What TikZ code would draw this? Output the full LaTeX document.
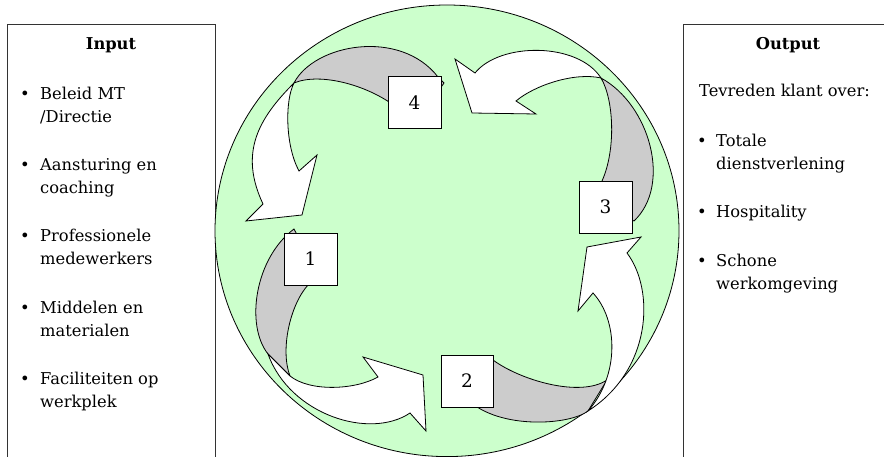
\documentclass[tikz,border=0pt]{standalone}
\usepackage{fontspec}
\setmainfont{DejaVu Serif}
\definecolor{circgreen}{HTML}{CCFFCC}
\definecolor{bandgray}{HTML}{CCCCCC}
\begin{document}
\begin{tikzpicture}[x=1pt,y=-1pt,
  edge/.style={draw=black, line width=0.8pt, line join=miter},
  grayband/.style={edge, fill=bandgray},
  whitearrow/.style={edge, fill=white},
  numbox/.style={draw=black, fill=white, line width=0.8pt, minimum width=52pt, minimum height=52pt, inner sep=0pt, font=\fontsize{18.5}{18.5}\selectfont},
  txt/.style={anchor=base west, inner sep=0pt, font=\fontsize{16.3}{20}\selectfont},
  bul/.style={anchor=base, inner sep=0pt, font=\fontsize{16.3}{20}\selectfont},
  head/.style={anchor=base, inner sep=0pt, font=\fontsize{16.3}{20}\selectfont\bfseries},
  panel/.style={draw=black!80, line width=0.9pt, fill=white}]
\useasboundingbox (0,0) rectangle (884,457);
\clip (0,0) rectangle (884,457);
\fill[white] (0,0) rectangle (884,457);

% side panels
\draw[panel] (7,24) rectangle (215,480);
\draw[panel] (683,24) rectangle (900,480);

% circle
\draw[edge, fill=circgreen] (447,230.8) ellipse [x radius=232, y radius=225.8];

% ---- arrow 4 (top left) ----
\filldraw[grayband] (294,83) .. controls (314,44) and (400,28) .. (438,77) -- (444,83) -- (425,110) -- (400,110)
  .. controls (370,85) and (320,72) .. (294,83) -- cycle;
\filldraw[whitearrow] (263,204) -- (246,221) -- (302,215) -- (317,155) -- (299,171)
  .. controls (285,145) and (285,100) .. (294,83)
  .. controls (258,119) and (239,153) .. (263,204) -- cycle;

% ---- arrow 3 (top right) ----
\filldraw[grayband] (601,78) .. controls (650,105) and (672,185) .. (634,221) -- (620,215) -- (600,192) -- (602,181)
  .. controls (616,150) and (614,100) .. (601,78) -- cycle;
\filldraw[whitearrow] (475,73) -- (455,59) -- (472,113) -- (536,114) -- (516,101)
  .. controls (535,85) and (575,72) .. (601,78)
  .. controls (578,42) and (500,42) .. (475,73) -- cycle;

% ---- arrow 2 (bottom right) ----
\filldraw[grayband] (607,380) -- (588,411) .. controls (570,425) and (500,430) .. (468,400) -- (486,360) -- (493,360)
  .. controls (520,380) and (580,398) .. (607,380) -- cycle;
\filldraw[whitearrow] (627,253) -- (641,237) -- (587,247) -- (578,311) -- (593,293)
  .. controls (618,320) and (620,375) .. (588,411)
  .. controls (652,370) and (655,290) .. (627,253) -- cycle;

% ---- arrow 1 (bottom left) ----
\filldraw[grayband] (290,376) -- (268,354) .. controls (245,325) and (255,258) .. (294,229) -- (305,250) -- (313,278) -- (308,285)
  .. controls (290,305) and (280,350) .. (290,376) -- cycle;
\filldraw[whitearrow] (410,413) -- (426,431) -- (423,375) -- (363,357) -- (378,377)
  .. controls (355,390) and (310,392) .. (290,376) -- (268,354)
  .. controls (290,415) and (370,440) .. (410,413) -- cycle;

% number boxes
\node[numbox, minimum width=53pt] (n1) at (310.5,259) {1};
\node[numbox] (n2) at (467,381) {2};
\node[numbox, minimum width=53pt] (n3) at (605.5,207) {3};
\node[numbox, minimum width=53pt] (n4) at (414.5,102.5) {4};

% input text
\node[head] (inh) at (111,50) {Input};
\node[bul] (ib1) at (25,100) {\textbullet};
\node[txt] (i1a) at (40,100) {Beleid MT};
\node[txt] (i1b) at (40,123) {/Directie};
\node[bul] (ib2) at (25,171) {\textbullet};
\node[txt] (i2a) at (40,171) {Aansturing en};
\node[txt] (i2b) at (40,194) {coaching};
\node[bul] (ib3) at (25,242) {\textbullet};
\node[txt] (i3a) at (40,242) {Professionele};
\node[txt] (i3b) at (40,265) {medewerkers};
\node[bul] (ib4) at (25,313) {\textbullet};
\node[txt] (i4a) at (40,313) {Middelen en};
\node[txt] (i4b) at (40,336) {materialen};
\node[bul] (ib5) at (25,384) {\textbullet};
\node[txt] (i5a) at (40,384) {Faciliteiten op};
\node[txt] (i5b) at (40,407) {werkplek};

% output text
\node[head] (outh) at (788,50) {Output};
\node[txt] (o0) at (699,97) {Tevreden klant over:};
\node[bul] (ob1) at (702,147) {\textbullet};
\node[txt] (o1a) at (716,147) {Totale};
\node[txt] (o1b) at (716,170) {dienstverlening};
\node[bul] (ob2) at (702,218) {\textbullet};
\node[txt] (o2a) at (716,218) {Hospitality};
\node[bul] (ob3) at (702,267) {\textbullet};
\node[txt] (o3a) at (716,267) {Schone};
\node[txt] (o3b) at (716,290) {werkomgeving};
\end{tikzpicture}
\end{document}
